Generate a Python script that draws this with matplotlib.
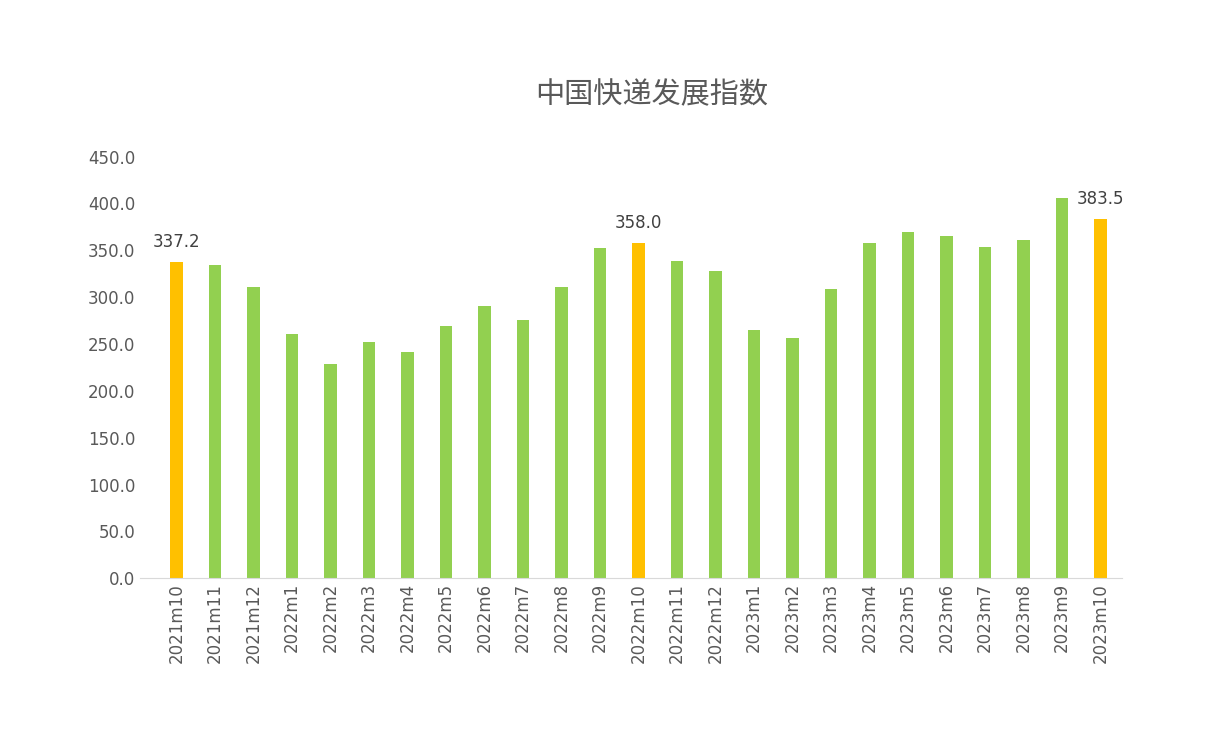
import matplotlib.pyplot as plt
from matplotlib import font_manager
import numpy as np

# pick whichever CJK family is actually registered
cjk = [f.name for f in font_manager.fontManager.ttflist if "CJK" in f.name]
plt.rcParams["font.family"] = ["DejaVu Sans"]
title_font = cjk[0] if cjk else "DejaVu Sans"
for name in ["Noto Sans CJK SC", "Noto Sans CJK JP", "Noto Sans CJK TC", "Noto Sans CJK KR"]:
    if name in cjk:
        title_font = name
        break

months = ["2021m10", "2021m11", "2021m12", "2022m1", "2022m2", "2022m3", "2022m4",
          "2022m5", "2022m6", "2022m7", "2022m8", "2022m9", "2022m10", "2022m11",
          "2022m12", "2023m1", "2023m2", "2023m3", "2023m4", "2023m5", "2023m6",
          "2023m7", "2023m8", "2023m9", "2023m10"]
values = [337.2, 334.5, 311.0, 261.0, 229.0, 252.0, 241.5, 269.0, 291.0, 276.0,
          311.0, 353.0, 358.0, 339.0, 328.0, 265.0, 256.5, 309.0, 358.0, 370.0,
          365.5, 354.0, 361.0, 406.0, 383.5]
highlight = ["2021m10", "2022m10", "2023m10"]

fig = plt.figure(figsize=(12.06, 7.32), dpi=100)
ax = fig.add_axes([0.116, 0.210, 0.814, 0.576])

x = np.arange(len(months))
colors = ["#FFC000" if m in highlight else "#92D050" for m in months]
ax.bar(x, values, width=0.32, color=colors)

for i, m in enumerate(months):
    if m in highlight:
        ax.text(x[i], values[i] + 12, f"{values[i]:.1f}", ha="center", va="bottom",
                fontsize=12, color="#404040")

ax.set_xlim(-0.95, len(months) - 0.45)
ax.set_ylim(0, 450)
ax.set_yticks(np.arange(0, 451, 50))
ax.set_yticklabels([f"{v:.1f}" for v in np.arange(0, 451, 50)], fontsize=12, color="#595959")
ax.set_xticks(x)
ax.set_xticklabels(months, rotation=90, fontsize=12, color="#595959")
ax.tick_params(length=0)
for s in ["top", "right", "left"]:
    ax.spines[s].set_visible(False)
ax.spines["bottom"].set_color("#D9D9D9")

fig.text(0.54, 0.87, "中国快递发展指数", ha="center", va="center", fontsize=21,
         color="#595959", fontfamily=title_font)

fig.savefig("out.png")
